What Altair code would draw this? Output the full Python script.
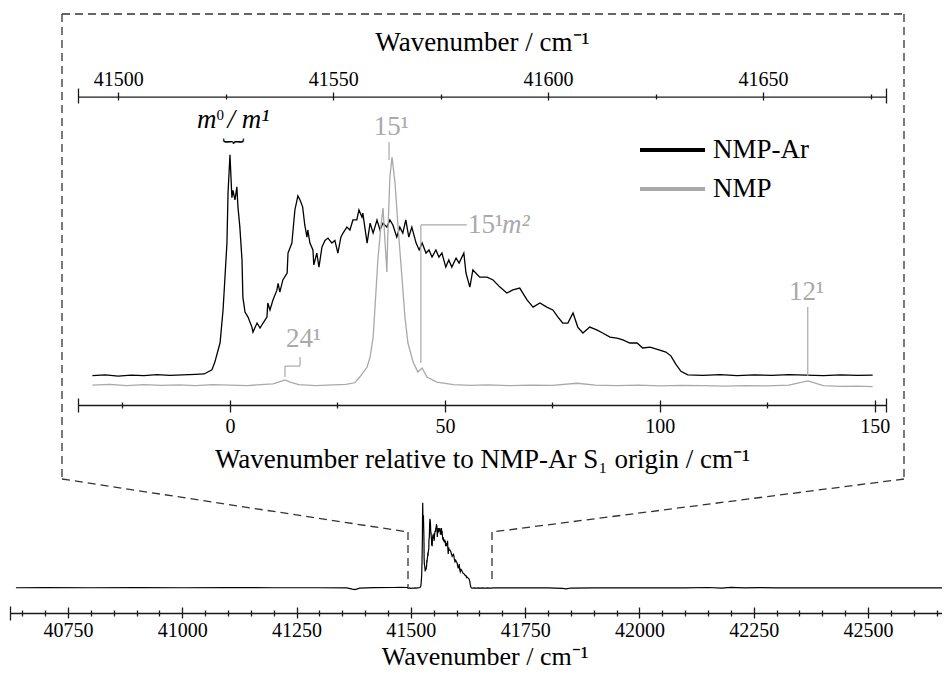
import altair as alt
import pandas as pd

ORIGIN = 41526  # NMP-Ar S1 origin (cm-1)

# ---------------- data ----------------
# NMP-Ar spectrum, wavenumber relative to origin / normalised intensity
ar_rel = [-32, -29, -26, -23, -20, -17, -14, -11, -8, -6,
          -4.2, -3.5, -2.3, -1.6, -0.7, -0.45, 0, 0.45, 0.7, 1.16,
          1.6, 1.86, 2.3, 2.8, 3.0, 3.5, 4.2, 5.1, 5.35, 6.3,
          7.0, 7.7, 8.6, 8.8, 9.3, 10.0, 10.9, 11.2, 11.6, 12.3,
          13.3, 13.5, 14.4, 15.1, 15.8, 16.3, 16.9, 17.4, 17.9, 18.1,
          18.6, 19.3, 19.5, 20.2, 20.7, 21.4, 22.1, 22.8, 23.7, 24.4,
          25.1, 25.8, 26.3, 27.2, 27.9, 28.6, 29.5, 30.0, 30.7, 30.9,
          31.9, 32.6, 33.3, 34.2, 34.9, 35.6, 36.5, 37.2, 37.9, 38.8,
          39.5, 40.2, 40.9, 41.6, 42.3, 43.3, 44.0, 44.7, 45.6, 46.3,
          47.0, 47.9, 48.6, 49.3, 50.2, 50.9, 51.6, 52.6, 53.3, 54.4,
          54.9, 55.8, 56.5, 58.1, 59.8, 61.2, 62.8, 64.4, 65.8, 67.4,
          69.1, 70.5, 72.1, 73.7, 75.1, 76.3, 77.4, 78.6, 79.8, 80.9,
          82.1, 83.7, 85.3, 86.7, 88.4, 90.0, 91.4, 93.0, 94.7, 96.0,
          97.7, 99.8, 101.4, 102.6, 103.7, 104.9, 106.5, 110, 114, 118,
          122, 126, 130, 134, 138, 142, 146, 149.5]
ar_int = [0.052, 0.055, 0.050, 0.054, 0.052, 0.056, 0.053, 0.055, 0.057, 0.059,
          0.076, 0.11, 0.19, 0.33, 0.61, 0.82, 0.98, 0.80, 0.83, 0.79,
          0.845, 0.76, 0.676, 0.538, 0.382, 0.319, 0.298, 0.256, 0.235, 0.273,
          0.252, 0.273, 0.298, 0.357, 0.328, 0.37, 0.41, 0.44, 0.403, 0.454,
          0.483, 0.567, 0.609, 0.748, 0.807, 0.79, 0.761, 0.685, 0.634, 0.664,
          0.609, 0.58, 0.517, 0.567, 0.508, 0.592, 0.62, 0.63, 0.609, 0.62,
          0.567, 0.634, 0.651, 0.676, 0.664, 0.706, 0.706, 0.748, 0.718, 0.735,
          0.609, 0.693, 0.651, 0.706, 0.664, 0.693, 0.676, 0.706, 0.685, 0.634,
          0.676, 0.651, 0.706, 0.634, 0.676, 0.609, 0.58, 0.609, 0.567, 0.58,
          0.55, 0.58, 0.55, 0.567, 0.508, 0.538, 0.508, 0.546, 0.525, 0.567,
          0.483, 0.424, 0.496, 0.466, 0.466, 0.454, 0.424, 0.399, 0.412, 0.42,
          0.37, 0.34, 0.357, 0.34, 0.328, 0.298, 0.273, 0.273, 0.315, 0.256,
          0.231, 0.256, 0.244, 0.231, 0.214, 0.21, 0.202, 0.189, 0.189, 0.168,
          0.172, 0.16, 0.151, 0.134, 0.10, 0.07, 0.055, 0.053, 0.056, 0.052,
          0.055, 0.053, 0.056, 0.054, 0.052, 0.055, 0.053, 0.054]

# NMP monomer spectrum
nmp_rel = [-32, -28, -24, -20, -16, -12, -8, -4, 0, 4, 8,
           10, 11.5, 12.8, 14, 16, 20, 24, 27, 29,
           30.2, 31.9, 32.6, 33.3, 33.7, 34.4, 35.1, 35.6, 36.0, 36.5,
           36.7, 37.2, 37.7, 38.4, 39.1, 40.0, 40.7, 41.4, 42.6, 43.7,
           44.7, 45.8, 48.1, 52, 56, 60, 65, 70, 75, 80.7,
           85, 90, 95, 100, 105, 110, 115, 120, 125, 130,
           134.4, 138, 142, 146, 149.5]
nmp_int = [0.012, 0.015, 0.010, 0.014, 0.011, 0.013, 0.010, 0.014, 0.012, 0.010, 0.015,
           0.017, 0.026, 0.034, 0.025, 0.014, 0.010, 0.013, 0.015, 0.022,
           0.046, 0.088, 0.13, 0.214, 0.328, 0.538, 0.676, 0.756, 0.634, 0.487,
           0.634, 0.887, 0.97, 0.861, 0.676, 0.466, 0.298, 0.189, 0.109, 0.067,
           0.084, 0.046, 0.025, 0.014, 0.011, 0.013, 0.010, 0.012, 0.011, 0.02,
           0.012, 0.010, 0.012, 0.009, 0.011, 0.010, 0.008, 0.010, 0.009, 0.012,
           0.03, 0.010, 0.007, 0.008, 0.006]

# survey spectrum baseline outside the zoomed range (absolute wavenumber)
base_left_abs = [40636, 40700, 40800, 40900, 41000, 41100, 41200, 41300,
                 41360, 41372, 41378, 41388, 41420, 41460, 41480, 41493]
base_left_int = [0.057, 0.058, 0.057, 0.058, 0.057, 0.058, 0.057, 0.057,
                 0.056, 0.042, 0.036, 0.052, 0.058, 0.060, 0.062, 0.060]
base_right_abs = [41680, 41750, 41800, 41832, 41840, 41850, 41900, 42000, 42100,
                  42150, 42180, 42200, 42230, 42260, 42300, 42400, 42500, 42600, 42700]
base_right_int = [0.055, 0.056, 0.055, 0.050, 0.044, 0.054, 0.055, 0.056, 0.055,
                  0.060, 0.052, 0.062, 0.055, 0.059, 0.055, 0.056, 0.055, 0.056, 0.055]

SERIES = ["NMP-Ar", "NMP"]

# tick values
top_major = [41500, 41550, 41600, 41650]
top_minor = [41525, 41575, 41625, 41675]
rel_major = [0, 50, 100, 150]
rel_minor = [-25, 25, 75, 125]
sv_major = [40750, 41000, 41250, 41500, 41750, 42000, 42250, 42500]
sv_minor = [v for v in range(40650, 42700, 50) if v % 250 != 0]

REL_DOMAIN = [-35.35, 152.6]
SV_DOMAIN = [40623, 42700]

# annotations (relative wavenumber / intensity units)
seg_x = [37.0, 44.4, 44.4, 12.8, 12.8, 16.3, 134.4]
seg_y = [1.034, 0.685, 0.685, 0.046, 0.092, 0.092, 0.05]
seg_x2 = [37.0, 44.4, 55.1, 12.8, 16.3, 16.3, 134.4]
seg_y2 = [0.958, 0.105, 0.685, 0.092, 0.092, 0.130, 0.34]

grey_lab = ["15¹", "24¹", "12¹"]
grey_lab_x = [37.5, 17.1, 134.1]
grey_lab_y = [1.063, 0.173, 0.37]

# ---------------- layout helpers ----------------
OX, OY = 8, 8
W, H = 934, 662
INK = "#000000"
GREY = "#a9a9a9"
AXC = "#1a1a1a"
SERIF = "Liberation Serif"


def px(x):
    return x - OX


def py(y):
    return y - OY


def lin(domain, r0, r1):
    return alt.Scale(domain=domain, range=[r0, r1], nice=False, zero=False)


X_IN = lin(REL_DOMAIN, px(78), px(886))
X_TOP = lin([REL_DOMAIN[0] + ORIGIN, REL_DOMAIN[1] + ORIGIN], px(78), px(886))
Y_IN = lin([0, 1], py(388), py(150))
X_SV = lin(SV_DOMAIN, px(9.94), px(959.4))
Y_SV = lin([0, 1], py(593), py(501))


def axis_layer(vals, scale, orient, at_y, size, domain=False, labels=False,
               ticks=True, title=None, title_y=0, label_pad=0, title_size=27):
    off = (py(at_y) - H) if orient == "bottom" else -py(at_y)
    kw = dict(orient=orient, offset=off, values=vals, grid=False, domain=domain,
              ticks=ticks, labels=labels, tickSize=size, tickWidth=1.3,
              tickColor=AXC, domainColor=AXC, domainWidth=1.3, title=title)
    if labels:
        kw.update(format="d", labelFont=SERIF, labelFontSize=20, labelColor=INK,
                  labelPadding=label_pad, labelBaseline="alphabetic",
                  labelFlush=False, labelOverlap=False, labelAngle=0)
    if title:
        kw.update(titleFont=SERIF, titleFontSize=title_size, titleFontWeight="normal",
                  titleColor=INK, titleY=title_y, titleBaseline="alphabetic")
    df = pd.DataFrame({"t": vals})
    return alt.Chart(df).mark_point(opacity=0).encode(
        x=alt.X("t:Q", scale=scale, axis=alt.Axis(**kw)))


def text_layer(label, rel, v, color, align="center", italic=False, size=27, font=SERIF,
               baseline="alphabetic"):
    df = pd.DataFrame({"rel": [rel], "v": [v], "label": [label]})
    mk = dict(font=font, fontSize=size, color=color, align=align, baseline=baseline)
    if italic:
        mk["fontStyle"] = "italic"
    return alt.Chart(df).mark_text(**mk).encode(
        x=alt.X("rel:Q", scale=X_IN, axis=None), y=alt.Y("v:Q", scale=Y_IN, axis=None),
        text="label:N")


# ---------------- inset ----------------
df_ar = pd.DataFrame({"rel": ar_rel, "v": ar_int, "series": SERIES[0]})
df_nmp = pd.DataFrame({"rel": nmp_rel, "v": nmp_int, "series": SERIES[1]})

color = alt.Color("series:N", scale=alt.Scale(domain=SERIES, range=[INK, GREY]), legend=None)
xin = alt.X("rel:Q", scale=X_IN, axis=None)
yin = alt.Y("v:Q", scale=Y_IN, axis=None)

line_ar = alt.Chart(df_ar).mark_line(strokeWidth=1.3).encode(x=xin, y=yin, color=color)
line_nmp = alt.Chart(df_nmp).mark_line(strokeWidth=1.3).encode(x=xin, y=yin, color=color)

df_seg = pd.DataFrame({"x": seg_x, "y": seg_y, "x2": seg_x2, "y2": seg_y2})
ann_rules = alt.Chart(df_seg).mark_rule(color=GREY, strokeWidth=1.2).encode(
    x=alt.X("x:Q", scale=X_IN, axis=None), y=alt.Y("y:Q", scale=Y_IN, axis=None),
    x2="x2:Q", y2="y2:Q")

df_glab = pd.DataFrame({"rel": grey_lab_x, "v": grey_lab_y, "label": grey_lab})
ann_grey = alt.Chart(df_glab).mark_text(font=SERIF, fontSize=27, color=GREY,
                                        align="center", baseline="alphabetic").encode(
    x=xin, y=yin, text="label:N")

ann_texts = [
    text_layer("15¹", 55.35, 0.651, GREY, align="left"),
    text_layer("m²", 63.3, 0.651, GREY, align="left", italic=True),
    text_layer("m", -7.67, 1.091, INK, align="left", italic=True),
    text_layer("0", -3.14, 1.126, INK, align="left", size=15),
    text_layer("/ m¹", -0.6, 1.091, INK, align="left", italic=True),
    text_layer("︸", 0.8, 1.0, INK, size=22, font="Noto Sans CJK JP", baseline="middle"),
]

inset = alt.layer(line_ar, line_nmp, ann_rules, ann_grey, *ann_texts)

# ---------------- legend (drawn by hand) ----------------
one = pd.DataFrame({"a": [0]})
legend_layers = []
for i, (name, col) in enumerate(zip(SERIES, [INK, GREY])):
    yl = 150 + 39 * i
    legend_layers.append(alt.Chart(one).mark_rule(color=col, strokeWidth=4).encode(
        x=alt.value(px(640)), x2=alt.value(px(705)), y=alt.value(py(yl))))
    legend_layers.append(alt.Chart(pd.DataFrame({"label": [name]})).mark_text(
        font=SERIF, fontSize=27, color=INK, align="left", baseline="alphabetic").encode(
        x=alt.value(px(713)), y=alt.value(py(yl + 8)), text="label:N"))

# ---------------- axes ----------------
axes = [
    # top (absolute) axis of the inset
    axis_layer([top_major[0]], X_TOP, "top", 96.7, 0, domain=True, ticks=False),
    axis_layer([REL_DOMAIN[0] + ORIGIN, REL_DOMAIN[1] + ORIGIN], X_TOP, "top", 103, 15),
    axis_layer(top_major, X_TOP, "top", 100, 8, labels=True, label_pad=7,
               title="Wavenumber / cm⁻¹", title_y=50 - 100),
    axis_layer(top_minor, X_TOP, "top", 99, 5),
    # bottom (relative) axis of the inset
    axis_layer([rel_major[0]], X_IN, "bottom", 405, 0, domain=True, ticks=False),
    axis_layer(REL_DOMAIN, X_IN, "bottom", 398, 14),
    axis_layer(rel_major, X_IN, "bottom", 400, 12, labels=True, label_pad=20,
               title="Wavenumber relative to NMP-Ar S₁ origin / cm⁻¹", title_y=467 - 400),
    axis_layer(rel_minor, X_IN, "bottom", 402, 6),
    # survey axis
    axis_layer([sv_major[0]], X_SV, "bottom", 613, 0, domain=True, ticks=False),
    axis_layer([SV_DOMAIN[0]], X_SV, "bottom", 606, 14),
    axis_layer(sv_major, X_SV, "bottom", 607, 11, labels=True, label_pad=18,
               title="Wavenumber / cm⁻¹", title_y=664 - 607, title_size=26),
    axis_layer(sv_minor, X_SV, "bottom", 610, 6),
]

# ---------------- survey spectrum ----------------
df_sv = pd.concat([
    pd.DataFrame({"wn": base_left_abs, "v": base_left_int}),
    pd.DataFrame({"wn": [r + ORIGIN for r in ar_rel], "v": ar_int}),
    pd.DataFrame({"wn": base_right_abs, "v": base_right_int}),
], ignore_index=True)
survey = alt.Chart(df_sv).mark_line(strokeWidth=1.2, color=INK).encode(
    x=alt.X("wn:Q", scale=X_SV, axis=None), y=alt.Y("v:Q", scale=Y_SV, axis=None))

# ---------------- dashed zoom frame ----------------
frame_segments = [(62, 14, 904, 14), (62, 14, 62, 479), (904, 14, 904, 479),
                  (62, 479, 408, 532), (408, 532, 408, 587),
                  (904, 479, 492, 532), (492, 532, 492, 580)]
frame = [alt.Chart(one).mark_rule(strokeDash=[8, 5], color="#333333", strokeWidth=1.3).encode(
    x=alt.value(px(a)), y=alt.value(py(b)), x2=alt.value(px(c)), y2=alt.value(py(d)))
    for a, b, c, d in frame_segments]

chart = alt.layer(inset, *axes, survey, *frame, *legend_layers).resolve_scale(
    x="independent", y="independent").properties(
    width=W, height=H, padding=0, background="white",
    autosize=alt.AutoSizeParams(type="none")
).configure(font=SERIF).configure_axis(labelFont=SERIF, titleFont=SERIF).configure_view(stroke=None)

chart.save("out.html", embed_options={"renderer": "svg", "actions": False})
